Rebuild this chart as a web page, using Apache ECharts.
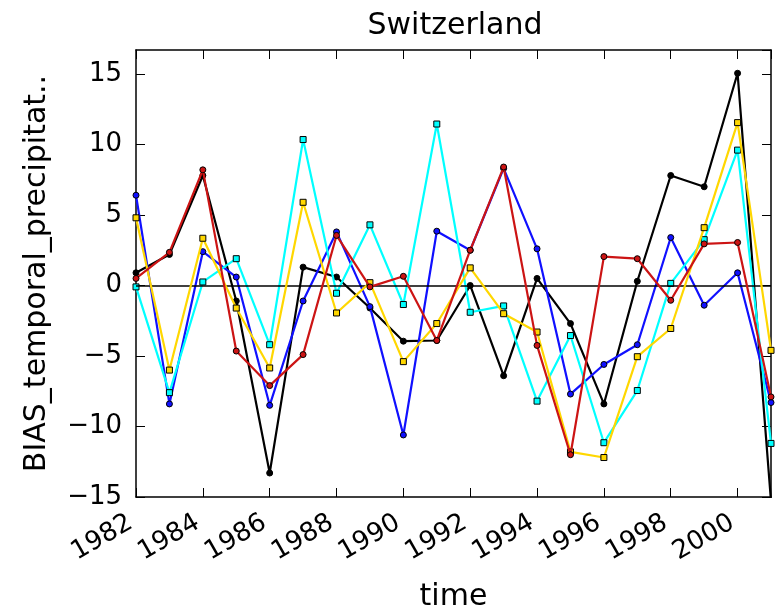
<!DOCTYPE html>
<html>
<head>
<meta charset="utf-8">
<script src="https://cdn.jsdelivr.net/npm/echarts@6/dist/echarts.min.js"></script>
<style>
  html, body { margin: 0; padding: 0; background: #fff; }
  #chart { width: 776px; height: 610px; }
</style>
</head>
<body>
<div id="chart"></div>
<script>
// Yearly precipitation bias, Switzerland
const years = [1982, 1983, 1984, 1985, 1986, 1987, 1988, 1989, 1990, 1991,
               1992, 1993, 1994, 1995, 1996, 1997, 1998, 1999, 2000, 2001];

const blackSeries  = [0.9, 2.2, 7.8, -1.1, -13.3, 1.3, 0.6, -1.6, -3.95, -3.9,
                      0.0, -6.4, 0.5, -2.7, -8.4, 0.3, 7.8, 7.0, 15.05, -15.3];
const blueSeries   = [6.4, -8.4, 2.4, 0.6, -8.5, -1.1, 3.8, -1.5, -10.6, 3.85,
                      2.5, 8.3, 2.6, -7.7, -5.6, -4.2, 3.4, -1.4, 0.9, -8.3];
const cyanSeries   = [-0.1, -7.6, 0.25, 1.9, -4.2, 10.35, -0.55, 4.3, -1.35, 11.45,
                      -1.9, -1.45, -8.2, -3.55, -11.15, -7.45, 0.15, 3.25, 9.6, -11.2];
const yellowSeries = [4.8, -6.0, 3.35, -1.6, -5.85, 5.9, -1.95, 0.2, -5.4, -2.7,
                      1.25, -2.0, -3.3, -11.8, -12.2, -5.05, -3.05, 4.1, 11.55, -4.6];
const redSeries    = [0.5, 2.35, 8.2, -4.65, -7.1, -4.9, 3.55, -0.1, 0.65, -3.9,
                      2.5, 8.4, -4.25, -12.0, 2.05, 1.9, -1.05, 2.95, 3.05, -7.9];

const yTicks = [-15, -10, -5, 0, 5, 10, 15];
const xTicks = [1982, 1984, 1986, 1988, 1990, 1992, 1994, 1996, 1998, 2000];

const FONT = 'DejaVu Sans';

function pairs(vals) { return years.map((y, i) => [y, vals[i]]); }

function lineSeries(name, vals, color, symbol, z) {
  return {
    name: name,
    type: 'line',
    data: pairs(vals),
    z: z,
    symbol: symbol,
    symbolSize: 6,
    showSymbol: true,
    clip: true,
    lineStyle: { color: color, width: 2.2 },
    itemStyle: { color: color, borderColor: '#000', borderWidth: 1 },
    emphasis: { disabled: true },
    animation: false
  };
}

const chart = echarts.init(document.getElementById('chart'), null, { renderer: 'canvas' });

const axisCommon = {
  axisLine: { show: true, onZero: false, lineStyle: { color: '#000', width: 1.5 } },
  axisTick: { show: true, inside: true, length: 9, lineStyle: { color: '#000', width: 1 } },
  splitLine: { show: false }
};

chart.setOption({
  backgroundColor: '#fff',
  animation: false,
  title: {
    text: 'Switzerland',
    left: 450,
    top: 6,
    textAlign: 'center',
    textStyle: { fontFamily: FONT, fontSize: 30, fontWeight: 'normal', color: '#000' }
  },
  grid: { left: 136, right: 5, top: 50, bottom: 113, containLabel: false, outerBoundsMode: 'none' },
  xAxis: [
    Object.assign({}, axisCommon, {
      type: 'value', position: 'bottom', min: 1982, max: 2001, interval: 2,
      name: 'time', nameLocation: 'middle', nameGap: 85,
      nameTextStyle: { fontFamily: FONT, fontSize: 30, color: '#000' },
      axisLabel: {
        show: true, rotate: 30, margin: 21, showMaxLabel: false,
        padding: [0, 6, 0, 0],
        fontFamily: FONT, fontSize: 26, color: '#000',
        formatter: v => xTicks.indexOf(v) >= 0 ? String(v) : ''
      }
    }),
    Object.assign({}, axisCommon, {
      type: 'value', position: 'top', min: 1982, max: 2001, interval: 2,
      axisLabel: { show: false }
    })
  ],
  yAxis: [
    Object.assign({}, axisCommon, {
      type: 'value', position: 'left', min: -15, max: 16.7, interval: 5,
      name: 'BIAS_temporal_precipitat..', nameLocation: 'middle', nameGap: 84, nameRotate: 90,
      nameTextStyle: { fontFamily: FONT, fontSize: 30, color: '#000' },
      axisLabel: {
        show: true, margin: 14, showMaxLabel: false,
        fontFamily: FONT, fontSize: 26, color: '#000',
        formatter: v => yTicks.indexOf(v) >= 0 ? String(v).replace('-', '\u2212') : ''
      }
    }),
    Object.assign({}, axisCommon, {
      type: 'value', position: 'right', min: -15, max: 16.7, interval: 5,
      axisLabel: { show: false }
    })
  ],
  series: [
    lineSeries('black', blackSeries, '#000000', 'circle', 2),
    lineSeries('blue', blueSeries, '#1010ff', 'circle', 3),
    lineSeries('cyan', cyanSeries, '#00ffff', 'rect', 4),
    lineSeries('gold', yellowSeries, '#ffd700', 'rect', 5),
    Object.assign(lineSeries('red', redSeries, '#cc1414', 'circle', 6), {
      markLine: {
        silent: true, symbol: 'none', animation: false,
        label: { show: false },
        lineStyle: { color: '#000', width: 1.5, type: 'solid' },
        data: [{ yAxis: 0 }]
      }
    })
  ]
});
</script>
</body>
</html>
